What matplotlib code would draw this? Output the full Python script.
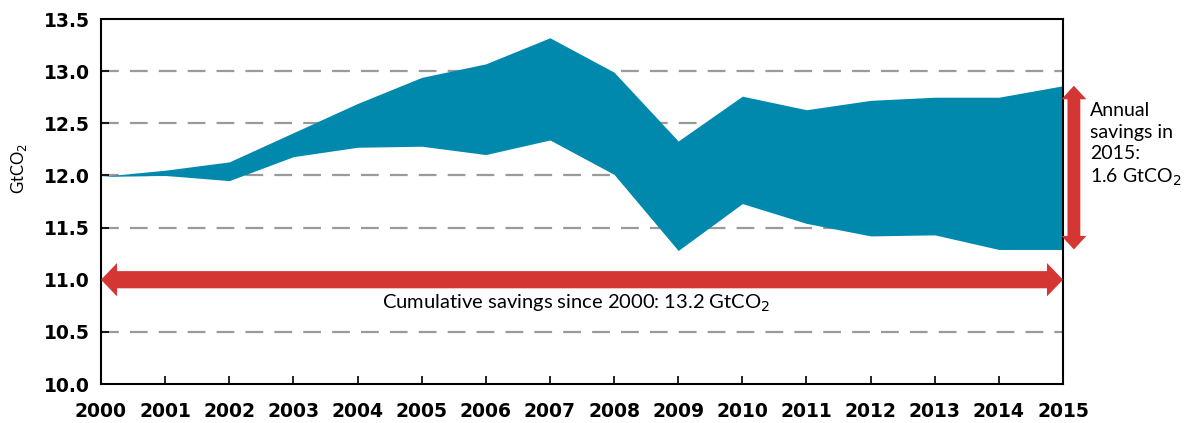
import matplotlib
matplotlib.use("Agg")
import matplotlib.pyplot as plt
from matplotlib.patches import Polygon
from matplotlib import font_manager

years = list(range(2000, 2016))
upper = [11.99, 12.05, 12.13, 12.41, 12.69, 12.94, 13.07, 13.32, 12.99, 12.33,
         12.76, 12.63, 12.72, 12.75, 12.75, 12.86]
lower = [11.99, 12.00, 11.95, 12.18, 12.27, 12.28, 12.20, 12.34, 12.01, 11.28,
         11.73, 11.54, 11.42, 11.43, 11.29, 11.29]
yticks = [10.0, 10.5, 11.0, 11.5, 12.0, 12.5, 13.0, 13.5]
grid_levels = [10.5, 11.0, 11.5, 12.0, 12.5, 13.0]
cum_level = 11.0

names = {f.name for f in font_manager.fontManager.ttflist}
tick_font = "Liberation Sans Narrow" if "Liberation Sans Narrow" in names else "DejaVu Sans"
text_font = "Lato" if "Lato" in names else "DejaVu Sans"

TEAL = "#0089AC"
RED = "#D43634"

fig = plt.figure(figsize=(11.94, 4.23), dpi=100)
ax = fig.add_axes([101/1194, 1-384/423, (1063-101)/1194, (384-19)/423])

for g in grid_levels:
    ax.axhline(g, color="#9a9a9a", lw=1.6, dashes=(8, 5), zorder=1)

ax.fill_between(years, lower, upper, color=TEAL, lw=0, zorder=2)

ax.set_xlim(2000, 2015)
ax.set_ylim(10.0, 13.5)
ax.set_xticks(years)
ax.set_xticklabels([str(y) for y in years])
ax.set_yticks(yticks)
ax.set_yticklabels([f"{v:.1f}" for v in yticks])
ax.tick_params(axis="both", direction="in", length=6, width=1.2, labelsize=13.5)
ax.tick_params(axis="x", pad=13)
ax.tick_params(axis="y", pad=8)
for lab in ax.get_xticklabels() + ax.get_yticklabels():
    lab.set_fontfamily(tick_font)
    lab.set_fontweight("bold")
for s in ax.spines.values():
    s.set_linewidth(1.5)

ax.text(-0.085, 0.59, "GtCO$_2$", transform=ax.transAxes, rotation=90,
        ha="center", va="center", fontsize=12, family=text_font)


def hdouble(x0, x1, y, w, hw, hl):
    return [(x0, y), (x0 + hl, y + hw / 2), (x0 + hl, y + w / 2),
            (x1 - hl, y + w / 2), (x1 - hl, y + hw / 2), (x1, y),
            (x1 - hl, y - hw / 2), (x1 - hl, y - w / 2),
            (x0 + hl, y - w / 2), (x0 + hl, y - hw / 2)]


def vdouble(x, y0, y1, w, hw, hl):
    return [(x, y0), (x + hw / 2, y0 + hl), (x + w / 2, y0 + hl),
            (x + w / 2, y1 - hl), (x + hw / 2, y1 - hl), (x, y1),
            (x - hw / 2, y1 - hl), (x - w / 2, y1 - hl),
            (x - w / 2, y0 + hl), (x - hw / 2, y0 + hl)]


# horizontal double arrow (cumulative)
ax.add_patch(Polygon(hdouble(years[0], years[-1], cum_level, 0.165, 0.32, 0.25),
                     closed=True, color=RED, lw=0, zorder=4, clip_on=False))
mid = (years[0] + years[-1]) / 2
ax.text(mid - 0.1, 10.77, "Cumulative savings since 2000: 13.2 GtCO$_2$",
        ha="center", va="center", fontsize=14.5, family=text_font)

# vertical double arrow (annual 2015)
xa = 2015.17
ax.add_patch(Polygon(vdouble(xa, lower[-1], upper[-1], 0.2, 0.39, 0.13),
                     closed=True, color=RED, lw=0, zorder=4, clip_on=False))
ax.text(2015.42, 12.70, "Annual\nsavings in\n2015:\n1.6 GtCO$_2$", ha="left",
        va="top", fontsize=14, family=text_font, linespacing=1.3)

fig.savefig("out.png", dpi=100)
